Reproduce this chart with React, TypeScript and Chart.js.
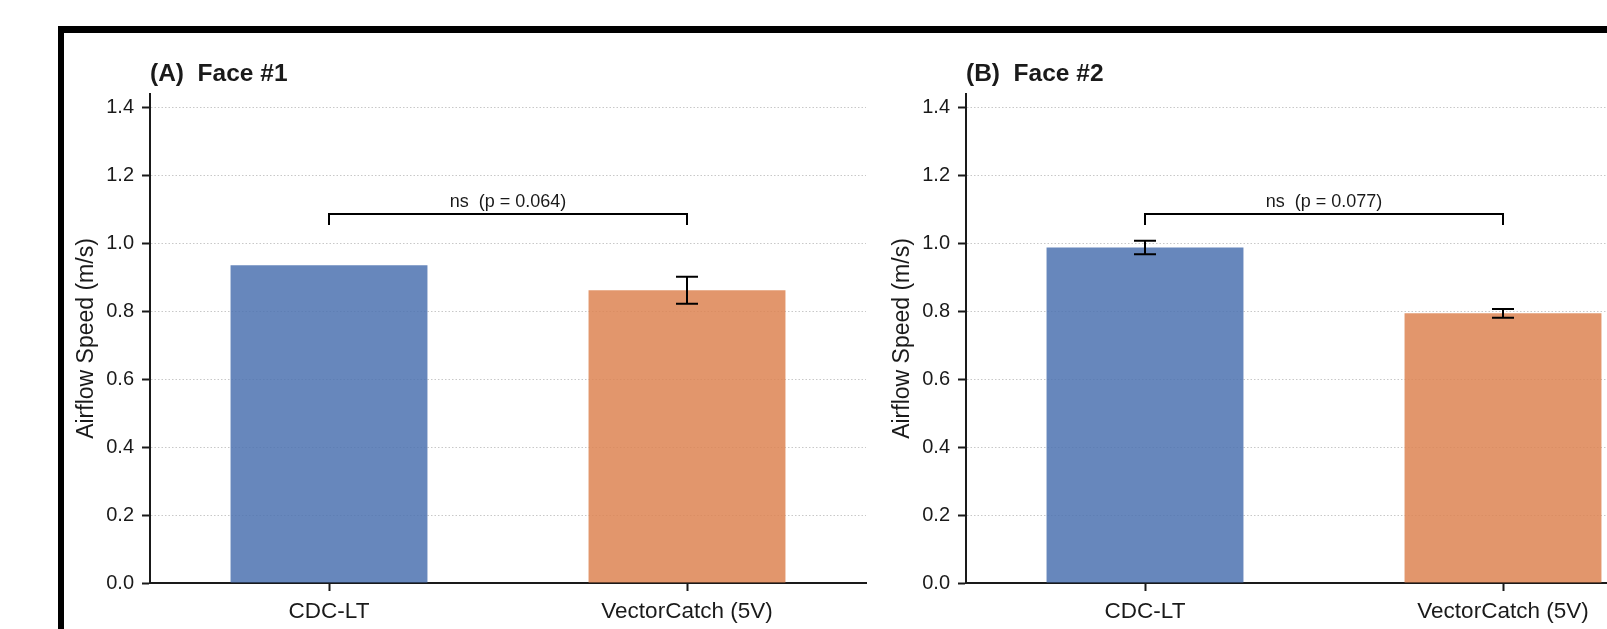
import React, { useEffect, useRef } from "react";
import { Chart, registerables } from "chart.js";

Chart.register(...registerables);

// ---------- data ----------
const categories = ["CDC-LT", "VectorCatch (5V)"];
const face1Values = [0.936, 0.862];
const face1Errors = [0, 0.04];
const face2Values = [0.988, 0.794];
const face2Errors = [0.02, 0.013];
const yTicks = [0, 0.2, 0.4, 0.6, 0.8, 1.0, 1.2, 1.4];
const pValues = ["0.064", "0.077"];
const panelTitles = ["(A)  Face #1", "(B)  Face #2"];
const yAxisTitle = "Airflow Speed (m/s)";
const barColors = ["rgba(76,114,176,0.85)", "rgba(221,132,82,0.85)"];

const Y_MAX = 1.44;
const BRACKET_Y = 1.088;
const BRACKET_DROP = 1.054;
const FONT = "'Liberation Sans', Arial, Helvetica, sans-serif";
const INK = "#1a1a1a";

type PanelCfg = {
  values: number[];
  errors: number[];
  title: string;
  p: string;
  yWidth: number;
  padRight: number;
};

function makeOverlay(cfg: PanelCfg) {
  return {
    id: "overlay",
    afterDatasetsDraw(chart: any) {
      const { ctx, chartArea } = chart;
      const x = chart.scales.x;
      const y = chart.scales.y;
      ctx.save();
      ctx.strokeStyle = "#000";
      ctx.lineWidth = 2;
      ctx.lineCap = "butt";
      // error bars
      cfg.values.forEach((v, i) => {
        const e = cfg.errors[i];
        if (!e) return;
        const cx = Math.round(x.getPixelForValue(i));
        const yt = y.getPixelForValue(v + e);
        const yb = y.getPixelForValue(v - e);
        ctx.beginPath();
        ctx.moveTo(cx, yt);
        ctx.lineTo(cx, yb);
        ctx.moveTo(cx - 11, yt);
        ctx.lineTo(cx + 11, yt);
        ctx.moveTo(cx - 11, yb);
        ctx.lineTo(cx + 11, yb);
        ctx.stroke();
      });
      // significance bracket
      const x1 = Math.round(x.getPixelForValue(0));
      const x2 = Math.round(x.getPixelForValue(1));
      const by = Math.round(y.getPixelForValue(BRACKET_Y));
      const bd = y.getPixelForValue(BRACKET_DROP);
      ctx.beginPath();
      ctx.moveTo(x1, bd);
      ctx.lineTo(x1, by);
      ctx.lineTo(x2, by);
      ctx.lineTo(x2, bd);
      ctx.stroke();
      ctx.fillStyle = INK;
      ctx.font = `18px ${FONT}`;
      ctx.textAlign = "center";
      ctx.textBaseline = "alphabetic";
      ctx.fillText(`ns  (p = ${cfg.p})`, (x1 + x2) / 2, by - 7.5);
      // panel title
      ctx.font = `bold 24.5px ${FONT}`;
      ctx.textAlign = "left";
      ctx.fillText(cfg.title, chartArea.left, chartArea.top - 13);
      // y-axis title
      ctx.font = `23px ${FONT}`;
      ctx.translate(chartArea.left - 63, (chartArea.top + chartArea.bottom) / 2);
      ctx.rotate(-Math.PI / 2);
      ctx.textAlign = "center";
      ctx.textBaseline = "middle";
      ctx.fillText(yAxisTitle, 0, 0);
      ctx.restore();
    },
  };
}

function buildChart(canvas: HTMLCanvasElement, cfg: PanelCfg) {
  return new Chart(canvas, {
    type: "bar",
    data: {
      labels: categories,
      datasets: [
        {
          data: cfg.values,
          backgroundColor: barColors,
          borderWidth: 0,
          barPercentage: 0.55,
          categoryPercentage: 1,
        },
      ],
    },
    options: {
      responsive: false,
      animation: false,
      events: [],
      layout: { padding: { left: 0, top: 94, right: cfg.padRight, bottom: 0 } },
      plugins: {
        legend: { display: false },
        tooltip: { enabled: false },
        title: { display: false },
      },
      scales: {
        x: {
          type: "category",
          offset: true,
          grid: {
            display: true,
            drawOnChartArea: false,
            drawTicks: true,
            offset: false,
            tickLength: 8,
            tickWidth: 2,
            tickColor: INK,
          },
          border: { display: true, color: INK, width: 2 },
          ticks: {
            color: INK,
            font: { family: FONT, size: 22.5 },
            padding: 7,
            maxRotation: 0,
            minRotation: 0,
            autoSkip: false,
          },
          afterFit: (s: any) => {
            s.height = 46;
          },
        },
        y: {
          type: "linear",
          min: 0,
          max: Y_MAX,
          grid: {
            display: true,
            drawOnChartArea: true,
            drawTicks: true,
            color: "#c8c8c8",
            lineWidth: 1,
            tickLength: 8,
            tickWidth: 2,
            tickColor: INK,
          },
          border: { display: true, color: INK, width: 2, dash: [1.5, 2] },
          ticks: {
            color: INK,
            font: { family: FONT, size: 20 },
            padding: 8,
            includeBounds: false,
            callback: (v: any) => Number(v).toFixed(1),
          },
          afterBuildTicks: (s: any) => {
            s.ticks = yTicks.map((v) => ({ value: v }));
          },
          afterFit: (s: any) => {
            s.width = cfg.yWidth;
          },
        },
      },
    },
    plugins: [makeOverlay(cfg)],
  } as any);
}

export default function App() {
  const leftRef = useRef<HTMLCanvasElement>(null);
  const rightRef = useRef<HTMLCanvasElement>(null);

  useEffect(() => {
    const c1 = buildChart(leftRef.current!, {
      values: face1Values,
      errors: face1Errors,
      title: panelTitles[0],
      p: pValues[0],
      yWidth: 150,
      padRight: 4,
    });
    const c2 = buildChart(rightRef.current!, {
      values: face2Values,
      errors: face2Errors,
      title: panelTitles[1],
      p: pValues[1],
      yWidth: 96,
      padRight: 88,
    });
    return () => {
      c1.destroy();
      c2.destroy();
    };
  }, []);

  return (
    <div
      style={{
        position: "fixed",
        left: 0,
        top: 0,
        width: 1607,
        height: 629,
        overflow: "hidden",
        background: "#fff",
      }}
    >
      <div
        style={{
          position: "absolute",
          left: 58,
          top: 26,
          width: 1700,
          height: 800,
          borderLeft: "6px solid #000",
          borderTop: "7px solid #000",
          boxSizing: "border-box",
        }}
      />
      <canvas
        ref={leftRef}
        width={870}
        height={629}
        style={{ position: "absolute", left: 0, top: 0, width: 870, height: 629 }}
      />
      <canvas
        ref={rightRef}
        width={900}
        height={629}
        style={{ position: "absolute", left: 870, top: 0, width: 900, height: 629 }}
      />
    </div>
  );
}
